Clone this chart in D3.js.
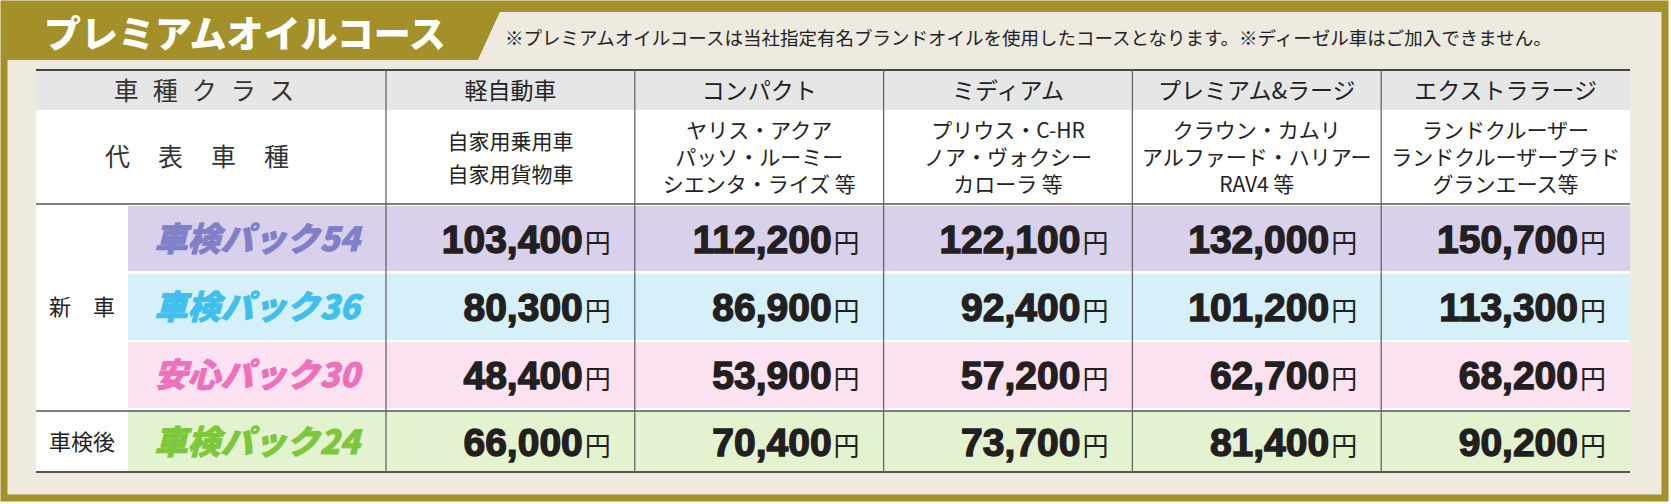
<!DOCTYPE html><html><head><meta charset="utf-8">
<script src="https://cdn.jsdelivr.net/npm/d3@7"></script>
<style>body{margin:0;background:#fff}svg{display:block}text{font-family:"Noto Sans CJK JP","Noto Sans",sans-serif}</style>
</head><body><svg id="c" width="1671" height="504"></svg>
<script>
const title = "プレミアムオイルコース";
const note = "※プレミアムオイルコースは当社指定有名ブランドオイルを使用したコースとなります。※ディーゼル車はご加入できません。";
const classes = ["軽自動車","コンパクト","ミディアム","プレミアム&ラージ","エクストララージ"];
const repCars = [["自家用乗用車","自家用貨物車"],["ヤリス・アクア","パッソ・ルーミー","シエンタ・ライズ 等"],["プリウス・C-HR","ノア・ヴォクシー","カローラ 等"],["クラウン・カムリ","アルファード・ハリアー","RAV4 等"],["ランドクルーザー","ランドクルーザープラド","グランエース等"]];
const packs = ["車検パック54","車検パック36","安心パック30","車検パック24"];
const pack54 = [103400,112200,122100,132000,150700];
const pack36 = [80300,86900,92400,101200,113300];
const pack30 = [48400,53900,57200,62700,68200];
const pack24 = [66000,70400,73700,81400,90200];
const groups = ["新　車","車検後"];

const prices=[pack54,pack36,pack30,pack24];
const packColor=["#8080c8","#3ebfee","#ee6fba","#7cc83a"];
const rowBg=["#d9d1ec","#d6f0fa","#fde3f2","#e4f3cf"];
const svg=d3.select("#c");
const gold="#a39028", beige="#eeeae0";
svg.append("rect").attr("x",0).attr("y",0).attr("width",1671).attr("height",504).attr("fill","#fff");
svg.append("rect").attr("x",4).attr("y",4).attr("width",1661).attr("height",494).attr("fill",beige).attr("stroke",gold).attr("stroke-width",7);
svg.append("path").attr("d","M4,4 H1665 V12 H500 L478,60 H4 Z").attr("fill",gold);
svg.append("path").attr("d","M500,12 H1660 V60 H478 Z").attr("fill",beige);
svg.append("text").attr("x",44).attr("y",48).attr("fill","#fff").attr("font-size",37).attr("font-weight",900).text(title);
svg.append("text").attr("x",505).attr("y",45).attr("fill","#222").attr("font-size",18.5).text(note);

const L=36,G=128,C0=386,R=1630;
const x=d3.scaleBand().domain(classes).range([C0,R]);
const rowY=[206,274,342,411], rowH=[65,66,66,61];
const hdrTop=70,hdrBot=110,repBot=204,bot=472;
svg.append("rect").attr("x",L).attr("y",hdrTop).attr("width",R-L).attr("height",hdrBot-hdrTop).attr("fill","#e6e6e6");
svg.append("rect").attr("x",L).attr("y",hdrBot).attr("width",R-L).attr("height",bot-hdrBot).attr("fill","#fff");
packs.forEach((p,i)=>{
  svg.append("rect").attr("x",G).attr("y",rowY[i]).attr("width",R-G).attr("height",rowH[i]).attr("fill",rowBg[i]);
  svg.append("text").attr("x",(G+C0)/2).attr("y",rowY[i]+rowH[i]/2+12).attr("text-anchor","middle")
    .attr("font-size",33).attr("font-weight",900).attr("font-style","italic").attr("fill",packColor[i])
    .attr("stroke",packColor[i]).attr("stroke-width",0.8).text(p);
  classes.forEach((c,j)=>{
    const t=svg.append("text").attr("x",x(c)+x.bandwidth()-24).attr("y",rowY[i]+rowH[i]/2+14).attr("text-anchor","end").attr("fill","#231f20");
    t.append("tspan").attr("font-family","Liberation Sans, Arial, sans-serif").attr("font-weight",700).attr("font-size",39)
      .attr("stroke","#231f20").attr("stroke-width",1.4).text(d3.format(",")(prices[i][j]));
    t.append("tspan").attr("font-size",26).attr("dx",2).text("円");
  });
});
svg.append("text").attr("x",(L+C0)/2).attr("y",hdrTop+30).attr("text-anchor","middle").attr("font-size",25).attr("fill","#333").attr("letter-spacing","14px").text("車種クラス");
svg.append("text").attr("x",(L+C0)/2).attr("y",(hdrBot+repBot)/2+9).attr("text-anchor","middle").attr("font-size",25).attr("fill","#333").attr("letter-spacing","28px").text("代表車種");
classes.forEach((c,j)=>{
  const cx=x(c)+x.bandwidth()/2;
  svg.append("text").attr("x",cx).attr("y",hdrTop+29).attr("text-anchor","middle").attr("font-size",23).attr("fill","#222").text(c);
  const lines=repCars[j], lh=lines.length===2?33:27;
  const y0=(hdrBot+repBot)/2-(lines.length-1)*lh/2+8;
  lines.forEach((s,k)=>svg.append("text").attr("x",cx).attr("y",y0+k*lh).attr("text-anchor","middle").attr("font-size",21).attr("fill","#222").text(s));
});
svg.append("text").attr("x",(L+G)/2).attr("y",(rowY[0]+rowY[2]+rowH[2])/2+8).attr("text-anchor","middle").attr("font-size",22).attr("fill","#222").text(groups[0]);
svg.append("text").attr("x",(L+G)/2).attr("y",rowY[3]+rowH[3]/2+8).attr("text-anchor","middle").attr("font-size",22).attr("fill","#222").text(groups[1]);
const ln=(x1,y1,x2,y2,c="#555",w=1.5)=>svg.append("line").attr("x1",x1).attr("y1",y1).attr("x2",x2).attr("y2",y2).attr("stroke",c).attr("stroke-width",w);
ln(L,hdrTop,R,hdrTop,"#444",2); ln(L,repBot,R,repBot,"#555",1.5); ln(L,rowY[3],R,rowY[3]); ln(L,bot,R,bot,"#555",2);
classes.forEach(c=>ln(x(c),hdrTop,x(c),bot,"#666",1.3));
</script></body></html>
